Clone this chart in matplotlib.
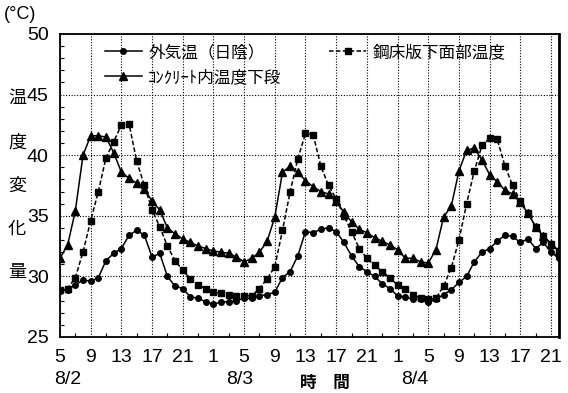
import matplotlib
matplotlib.use('Agg')
import matplotlib.pyplot as plt
from matplotlib.ticker import MultipleLocator, FixedLocator

plt.rcParams['font.family'] = ['Noto Sans CJK JP', 'DejaVu Sans']

# hours from 8/2 5:00 to 8/4 22:00, one reading per hour
hours = list(range(66))
tick_pos = list(range(0, 65, 4))
tick_labels = ['5', '9', '13', '17', '21', '1', '5', '9', '13', '17', '21',
               '1', '5', '9', '13', '17', '21']

# 外気温（日陰）
air = [28.8, 28.9, 29.3, 29.7, 29.6, 29.9, 31.3, 31.9, 32.3, 33.4, 33.8, 33.4,
       31.6, 31.9, 30.0, 29.2, 29.0, 28.3, 28.2, 27.9, 27.7, 27.9, 27.9, 28.0,
       28.2, 28.2, 28.4, 28.5, 28.7, 29.9, 30.4, 31.7, 33.7, 33.6, 33.9, 34.0,
       33.7, 32.8, 31.7, 30.8, 30.4, 30.0, 29.4, 29.0, 28.4, 28.3, 28.1, 28.1,
       27.9, 28.1, 28.5, 28.9, 29.5, 30.0, 31.2, 32.0, 32.3, 32.9, 33.4, 33.3,
       32.8, 33.1, 32.3, 32.8, 32.0, 31.5]
# 鋼床版下面部温度
steel = [28.9, 29.0, 29.9, 32.0, 34.6, 37.0, 39.8, 41.1, 42.5, 42.6, 39.5, 37.5,
         35.5, 34.1, 32.5, 31.3, 30.5, 29.8, 29.3, 29.0, 28.7, 28.6, 28.5, 28.4,
         28.4, 28.4, 29.0, 29.8, 30.8, 33.8, 37.0, 39.7, 41.8, 41.7, 39.1, 37.5,
         36.4, 35.0, 33.7, 32.3, 31.5, 30.9, 30.4, 29.9, 29.3, 29.0, 28.5, 28.2,
         28.1, 28.2, 29.2, 30.7, 33.0, 36.0, 38.7, 40.8, 41.4, 41.3, 39.1, 37.5,
         36.2, 35.2, 34.1, 33.3, 32.7, 32.1]
# コンクリート内温度下段
concrete = [31.5, 32.6, 35.4, 40.0, 41.6, 41.6, 41.5, 40.2, 38.6, 38.1, 37.7, 37.2,
            36.2, 35.5, 34.0, 33.5, 33.1, 32.8, 32.5, 32.3, 32.1, 32.0, 31.9, 31.6,
            31.2, 31.5, 32.0, 32.9, 34.9, 38.6, 39.1, 38.6, 37.9, 37.4, 37.0, 36.8,
            36.2, 35.3, 34.5, 33.9, 33.6, 33.2, 32.9, 32.6, 32.2, 31.5, 31.5, 31.2,
            31.1, 32.2, 34.9, 35.8, 38.7, 40.4, 40.6, 39.6, 38.4, 37.8, 37.1, 36.8,
            36.1, 35.2, 34.1, 33.3, 32.7, 32.1]

num_font = ['Liberation Sans', 'DejaVu Sans']

fig = plt.figure(figsize=(5.68, 3.93), dpi=100)
ax = fig.add_axes([0.1056, 0.1425, 0.878, 0.771])

l1, = ax.plot(hours, air, '-', color='black', lw=1.1, marker='o', ms=4,
              label='外気温（日陰）')
l2, = ax.plot(hours, steel, '--', color='black', lw=1.1, marker='s', ms=5,
              dashes=(3, 1.5), label='鋼床版下面部温度')
l3, = ax.plot(hours, concrete, '-', color='black', lw=1.1, marker='^', ms=5.5,
              label='ｺﾝｸﾘｰﾄ内温度下段')

ax.set_xlim(0, 65)
ax.set_ylim(25, 50)
ax.set_yticks([25, 30, 35, 40, 45, 50])
ax.yaxis.set_minor_locator(MultipleLocator(1))
ax.xaxis.set_major_locator(FixedLocator(tick_pos))
ax.xaxis.set_minor_locator(MultipleLocator(2))
ax.set_xticklabels(tick_labels)
ax.grid(True, which='major', color='black', linestyle=(0, (1, 1.5)), lw=0.8)
ax.tick_params(which='both', direction='in', length=0, labelsize=14)
ax.tick_params(axis='y', pad=8)
ax.tick_params(axis='x', pad=9)
ax.tick_params(which='minor', length=3, width=0.8)
for lab in ax.get_xticklabels() + ax.get_yticklabels():
    lab.set_family(num_font)
for s in ax.spines.values():
    s.set_linewidth(1.3)
ax.spines['right'].set_linewidth(2)

leg1 = ax.legend(handles=[l1, l3], loc='upper left', bbox_to_anchor=(0.07, 1.0),
                 frameon=False, fontsize=12, handlelength=2.2,
                 handletextpad=0.4, labelspacing=0.5, borderaxespad=0.2)
ax.add_artist(leg1)
ax.legend(handles=[l2], loc='upper left', bbox_to_anchor=(0.52, 1.0),
          frameon=False, fontsize=12, handlelength=2.2, handletextpad=0.4,
          borderaxespad=0.2)

fig.text(0.007, 0.985, '(°C)', fontsize=13, va='top', ha='left',
         family=num_font)
for ch, yp in zip('温度変化量', [98, 143, 186, 229, 272]):
    fig.text(0.03, 1 - yp / 393, ch, fontsize=13, ha='center', va='center')

for txt, xp in [('8/2', 68), ('8/3', 240), ('8/4', 415)]:
    fig.text(xp / 568, 1 - 380 / 393, txt, fontsize=14, ha='center',
             va='center', family=num_font)
fig.text(325 / 568, 1 - 383 / 393, '時　間', fontsize=12, ha='center',
         va='center', weight='bold')

fig.savefig('out.png', dpi=100)
